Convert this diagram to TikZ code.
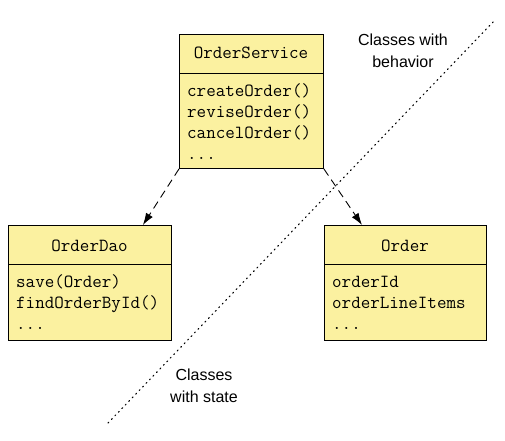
\documentclass[tikz,border=0pt]{standalone}
\usepackage{fontspec}
\setmainfont{Liberation Sans}
\usetikzlibrary{arrows.meta,calc}
\definecolor{boxfill}{RGB}{251,241,160}
\tikzset{
  classbox/.style={draw=black,line width=0.9pt,fill=boxfill,rectangle,inner sep=0pt,anchor=north west},
  code/.style={font=\ttfamily\fontsize{18.5}{21}\selectfont,inner sep=0pt,anchor=base west},
  title/.style={font=\ttfamily\fontsize{18.5}{21}\selectfont,inner sep=0pt,anchor=base},
  dep/.style={line width=0.9pt,dash pattern=on 8pt off 5pt,-{Latex[length=12pt,width=8pt]}},
  divider/.style={line width=0.9pt},
  region/.style={line width=1.1pt,dash pattern=on 1.1pt off 3.9pt,line cap=round},
  label/.style={font=\fontsize{16}{22}\selectfont,align=center,inner sep=0pt}
}
\begin{document}
\begin{tikzpicture}[x=1pt,y=-1pt]
\useasboundingbox (0,0) rectangle (505,440);
% dotted boundary
\coordinate (lo) at (108,423);
\coordinate (hi) at (495,20);
\draw[region] (lo) -- (hi);
% boxes
\node[classbox,minimum width=144pt,minimum height=134pt] (svc) at (179,34) {};
\node[classbox,minimum width=163pt,minimum height=115pt] (dao) at (8,225) {};
\node[classbox,minimum width=162pt,minimum height=115pt] (ord) at (324,225) {};
% dividers
\draw[divider] ($(svc.north west)+(0,39)$) -- ($(svc.north east)+(0,39)$);
\draw[divider] ($(dao.north west)+(0,39)$) -- ($(dao.north east)+(0,39)$);
\draw[divider] ($(ord.north west)+(0,39)$) -- ($(ord.north east)+(0,39)$);
% OrderService
\node[title] (svct) at (251,58) {OrderService};
\node[code] (s1) at (187,96) {createOrder()};
\node[code] (s2) at (187,117) {reviseOrder()};
\node[code] (s3) at (187,138) {cancelOrder()};
\node[code] (s4) at (187,159) {...};
% OrderDao
\node[title] (daot) at (89.5,251) {OrderDao};
\node[code] (d1) at (16,287) {save(Order)};
\node[code] (d2) at (16,308) {findOrderById()};
\node[code] (d3) at (16,329) {...};
% Order
\node[title] (ordt) at (405,251) {Order};
\node[code] (o1) at (332,287) {orderId};
\node[code] (o2) at (332,308) {orderLineItems};
\node[code] (o3) at (332,329) {...};
% arrows
\coordinate (daoin) at ($(dao.north east)+(-29,0)$);
\coordinate (ordin) at ($(ord.north west)+(38,0)$);
\draw[dep] (svc.south west) -- (daoin);
\draw[dep] (svc.south east) -- (ordin);
% labels
\node[label] (lb) at (403,51) {Classes with\\behavior};
\node[label] (ls) at (204,386) {Classes\\with state};
\end{tikzpicture}
\end{document}
